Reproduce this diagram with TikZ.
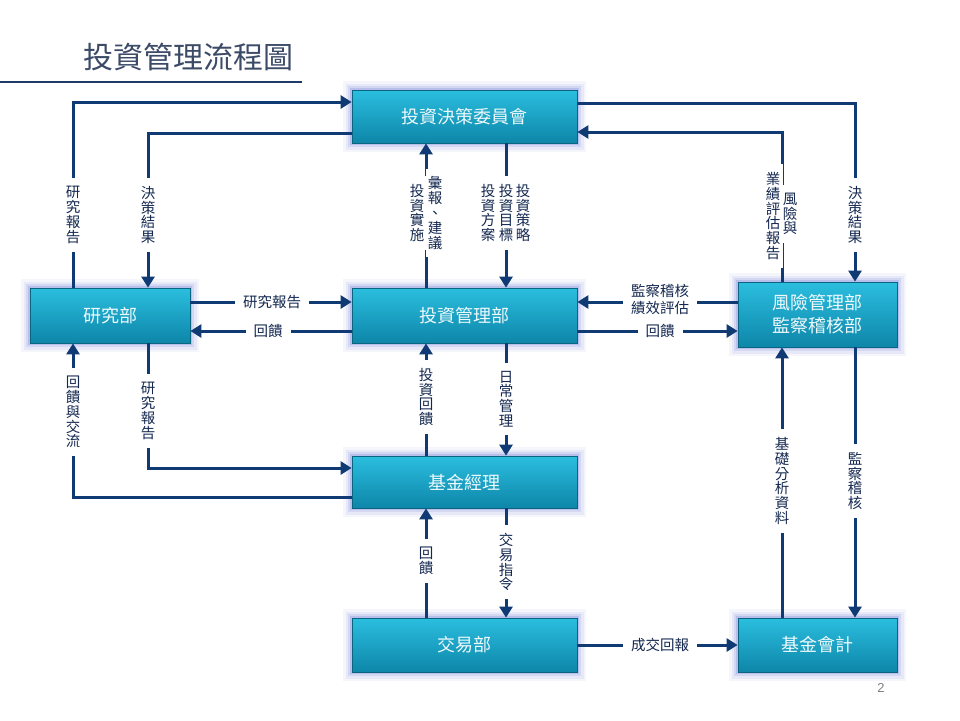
\documentclass[tikz,border=0pt]{standalone}
\usepackage{fontspec}
\setmainfont{Liberation Sans}
\newfontfamily\cjk{Noto Sans CJK TC}
\usetikzlibrary{arrows.meta,calc}
\definecolor{navy}{HTML}{0F3A73}
\definecolor{labtext}{HTML}{142850}
\definecolor{titlec}{HTML}{3B4A66}
\definecolor{ruleline}{HTML}{1F3A68}
\definecolor{boxtop}{HTML}{2BBEDF}
\definecolor{boxbot}{HTML}{0D86A9}
\definecolor{boxedge}{HTML}{0A6580}
\definecolor{glowc}{HTML}{5A6CD0}
\definecolor{boxtext}{HTML}{EEF9FC}
\begin{document}
\begin{tikzpicture}[x=1pt,y=-1pt,
  box/.style={draw=boxedge, line width=0.8pt, top color=boxtop, bottom color=boxbot,
    inner sep=0pt, align=center, text=boxtext,
    font=\cjk\fontsize{18}{23}\selectfont,
    preaction={draw=glowc, line width=18pt, opacity=0.06, rounded corners=8pt},
    preaction={draw=glowc, line width=13pt, opacity=0.09, rounded corners=6pt},
    preaction={draw=glowc, line width=8pt, opacity=0.14, rounded corners=3pt},
    preaction={draw=glowc, line width=4pt, opacity=0.22}},
  conn/.style={draw=navy, line width=3pt, -{Triangle[length=11pt,width=13pt]}},
  vlab/.style={fill=white, inner xsep=1.5pt, inner ysep=8pt, align=center, text=labtext,
    font=\cjk\fontsize{14.5}{14.8}\selectfont},
  hlab/.style={fill=white, inner xsep=8pt, inner ysep=1pt, align=center, text=labtext,
    font=\cjk\fontsize{14.5}{17}\selectfont}]
\useasboundingbox (0,0) rectangle (960,720);
\fill[white] (0,0) rectangle (960,720);

% title
\node[text=titlec, font=\cjk\fontsize{30}{30}\selectfont, inner sep=0pt] (title) at (188,57) {投資管理流程圖};
\coordinate (rl) at (0,82);
\coordinate (rr) at (302,82);
\draw[ruleline, line width=2.5pt] (rl) -- (rr);

% boxes
\node[box, minimum width=225pt, minimum height=53pt] (committee) at (464.5,116.5) {投資決策委員會};
\node[box, minimum width=160pt, minimum height=55pt] (research) at (110,315.5) {研究部};
\node[box, minimum width=225pt, minimum height=55pt] (investment) at (464.5,315.5) {投資管理部};
\node[box, minimum width=159pt, minimum height=65pt] (risk) at (817.5,314.5) {風險管理部\\監察稽核部};
\node[box, minimum width=225pt, minimum height=52pt] (manager) at (464.5,482) {基金經理};
\node[box, minimum width=225pt, minimum height=54pt] (trading) at (464.5,645) {交易部};
\node[box, minimum width=159pt, minimum height=54pt] (accounting) at (817.5,645) {基金會計};

% helper coordinates
\coordinate (p1) at (73,102);
\coordinate (p2) at (148,133);
\coordinate (p5) at (855,103);
\coordinate (p6) at (782,132);
\coordinate (xL) at (426,0);
\coordinate (xR) at (506,0);
\coordinate (yA) at (0,302);
\coordinate (yB) at (0,331);
\coordinate (p13) at (148,468);
\coordinate (p14) at (73,497);

% connectors
\draw[conn] (research.north -| p1) -- (p1) -- (p1 -| committee.west);
\draw[conn] (committee.west |- p2) -- (p2) -- (p2 |- research.north);
\draw[conn] (investment.north -| xL) -- (committee.south -| xL);
\draw[conn] (committee.south -| xR) -- (investment.north -| xR);
\draw[conn] (committee.east |- p5) -- (p5) -- (p5 |- risk.north);
\draw[conn] (risk.north -| p6) -- (p6) -- (p6 -| committee.east);

\draw[conn] (research.east |- yA) -- (investment.west |- yA);
\draw[conn] (investment.west |- yB) -- (research.east |- yB);
\draw[conn] (risk.west |- yA) -- (investment.east |- yA);
\draw[conn] (investment.east |- yB) -- (risk.west |- yB);

\draw[conn] (investment.south -| xR) -- (manager.north -| xR);
\draw[conn] (manager.north -| xL) -- (investment.south -| xL);
\draw[conn] (research.south -| p13) -- (p13) -- (p13 -| manager.west);
\draw[conn] (manager.west |- p14) -- (p14) -- (p14 |- research.south);

\draw[conn] (manager.south -| xR) -- (trading.north -| xR);
\draw[conn] (trading.north -| xL) -- (manager.south -| xL);
\draw[conn] (trading.east) -- (accounting.west);

\draw[conn] (accounting.north -| p6) -- (risk.south -| p6);
\draw[conn] (risk.south -| p5) -- (accounting.north -| p5);

% labels
\node[vlab] (l1) at (73,215) {研\\究\\報\\告};
\node[vlab] (l2) at (148,215) {決\\策\\結\\果};
\node[vlab, inner xsep=3pt] (l3a) at (417,213) {投\\資\\實\\施};
\node[vlab, inner xsep=2pt] (l3b) at (435,213) {彙\\報\\、\\建\\議};
\node[vlab] (l4a) at (523,213) {投\\資\\策\\略};
\node[vlab, inner xsep=1pt] (l4b) at (506,213) {投\\資\\目\\標};
\node[vlab, inner xsep=1pt] (l4c) at (488,213) {投\\資\\方\\案};
\node[vlab] (l5) at (855,215) {決\\策\\結\\果};
\node[vlab, inner xsep=3pt] (l6a) at (773,216) {業\\績\\評\\估\\報\\告};
\node[vlab, inner xsep=2pt] (l6b) at (790,214) {風\\險\\與};

\node[hlab] (l7) at (272,302) {研究報告};
\node[hlab] (l8) at (268,331) {回饋};
\node[hlab, inner ysep=0pt] (l9) at (660,299) {監察稽核\\績效評估};
\node[hlab] (l10) at (660,331) {回饋};

\node[vlab] (l11) at (506,399) {日\\常\\管\\理};
\node[vlab] (l12) at (426,397) {投\\資\\回\\饋};
\node[vlab] (l13) at (148,411) {研\\究\\報\\告};
\node[vlab] (l14) at (73,412) {回\\饋\\與\\交\\流};

\node[vlab] (l15) at (506,562) {交\\易\\指\\令};
\node[vlab] (l16) at (426,561) {回\\饋};
\node[hlab] (l17) at (660,645) {成交回報};

\node[vlab] (l18) at (782,481) {基\\礎\\分\\析\\資\\料};
\node[vlab] (l19) at (855,481) {監\\察\\稽\\核};

% page number
\node[text=gray, font=\fontsize{13}{13}\selectfont, inner sep=0pt] (pg) at (881,688) {2};
\end{tikzpicture}
\end{document}
